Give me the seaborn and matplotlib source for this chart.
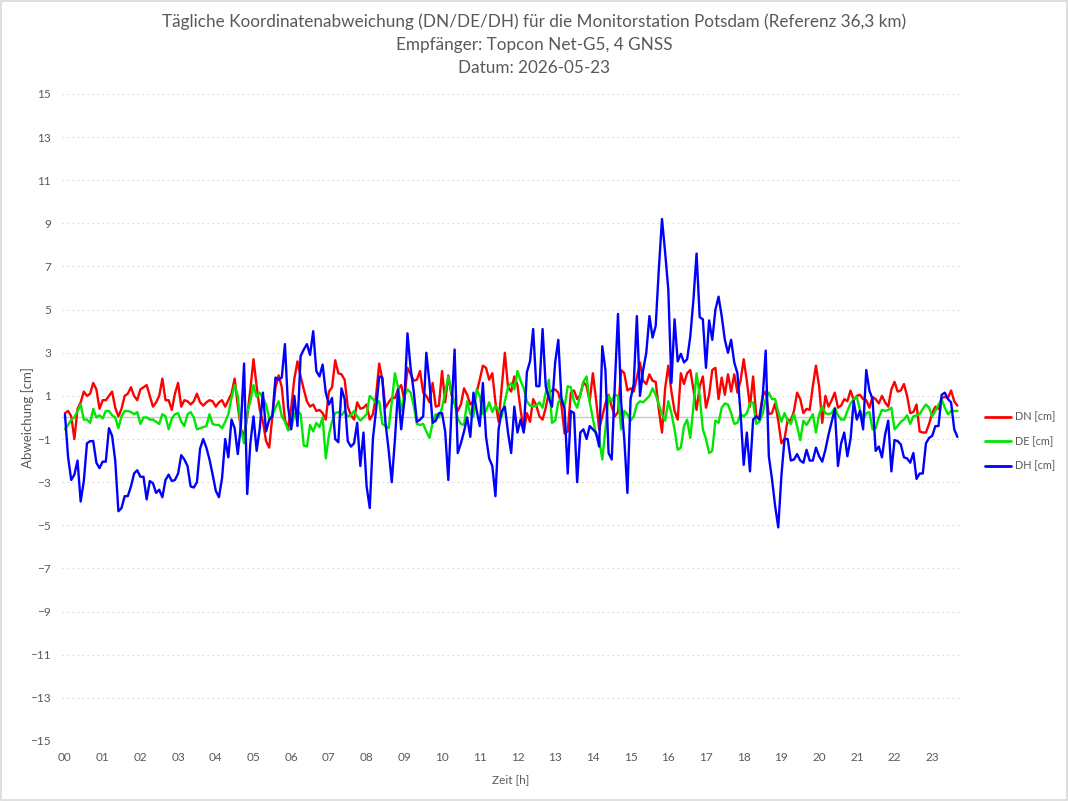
import numpy as np
import pandas as pd
import seaborn as sns
import matplotlib
matplotlib.use('Agg')
from matplotlib import pyplot as plt
from matplotlib.patches import Rectangle

dn = [0.2, 0.3, 0.05, -1.0, 0.4, 0.7, 1.2, 1.0, 1.1, 1.6, 1.3, 0.4,
      0.8, 0.8, 1.0, 1.2, 0.45, 0.05, 0.4, 1.0, 1.1, 1.4, 1.0, 0.8,
      1.3, 1.4, 1.5, 1.0, 0.5, 0.7, 1.0, 1.8, 0.8, 0.8, 0.35, 1.1,
      1.6, 0.5, 0.8, 0.75, 0.6, 0.75, 1.1, 0.7, 0.55, 0.7, 0.8, 0.75,
      0.5, 0.7, 0.8, 0.5, 0.8, 1.1, 1.8, 0.55, -0.55, -0.85, 0.05, 1.3,
      2.7, 1.45, 0.35, -0.2, -1.1, -1.4, 0.05, 1.4, 1.95, 1.4, -0.1, -0.5,
      0.45, 1.8, 2.6, 1.9, 1.3, 0.75, 0.5, 0.6, 0.3, 0.35, 0.2, -0.1,
      1.2, 1.4, 2.65, 2.05, 2.0, 1.75, 0.5, 0.1, -0.1, 0.7, 0.4, 0.45,
      0.6, -0.1, 0.15, 1.0, 2.5, 1.75, 0.45, 0.7, 0.9, 0.9, 1.3, 1.5,
      0.8, 2.3, 2.0, 1.7, 1.75, 2.15, 1.15, 1.0, 0.7, 1.6, 0.5, 0.55,
      2.15, 0.7, 1.95, 1.05, 0.65, 0.3, 0.6, 1.35, 1.05, 0.6, 0.75, 1.15,
      1.75, 2.4, 2.3, 1.75, 2.05, 0.7, -0.2, 1.4, 3.0, 1.4, 1.2, 1.9,
      1.5, 0.35, -0.65, 0.2, -0.2, 0.85, 0.55, 0.05, -0.1, 0.45, 1.15, 1.25,
      1.3, 1.15, 0.55, -0.75, -0.65, 1.15, 1.25, 0.85, 1.05, 1.65, 1.45, 0.75,
      2.05, 0.85, -0.55, 0.05, 0.65, 1.05, 0.5, 0.05, 0.25, 2.2, 2.05, 1.25,
      1.35, 1.2, 1.85, 2.55, 1.7, 1.55, 2.0, 1.7, 1.65, 0.35, -0.7, 1.35,
      2.4, 1.2, 0.3, -0.1, 2.05, 1.55, 2.05, 2.2, 1.3, 0.35, 1.45, 1.9,
      0.45, 1.05, 2.2, 2.3, 0.85, 1.85, 1.05, 2.0, 1.2, 2.0, 1.15, 1.7,
      2.7, 1.7, 0.5, 1.9, 0.05, 0.0, 1.0, 1.2, 0.15, 0.2, 0.65, -0.15,
      -1.2, -1.0, -0.1, -0.15, 0.3, 1.15, 0.85, 0.2, 0.4, 0.35, 1.45, 2.4,
      1.45, -0.25, 1.0, 0.5, 0.8, 1.15, 0.45, 0.55, 0.85, 0.75, 1.25, 0.8,
      1.0, 1.05, 0.85, 0.8, 0.45, 0.95, 0.85, 0.65, 1.0, 0.7, 0.5, 1.3,
      1.65, 1.2, 1.25, 1.55, 1.0, 0.2, 0.25, 0.6, -0.65, -0.7, -0.7, -0.3,
      0.2, 0.5, 0.4, 0.9, 0.95, 0.9, 1.25, 0.75, 0.55]

de = [-0.55, -0.35, -0.1, 0.0, 0.3, 0.6, -0.1, -0.1, -0.25, 0.4, 0.0, 0.1,
      -0.05, 0.3, 0.3, 0.1, 0.0, -0.5, 0.05, 0.3, 0.3, 0.25, 0.15, 0.25,
      -0.3, 0.0, 0.0, -0.1, -0.1, -0.2, -0.3, 0.15, 0.05, -0.55, -0.05, 0.15,
      0.2, -0.2, -0.4, 0.15, 0.25, 0.0, -0.55, -0.5, -0.45, -0.4, 0.15, -0.3,
      -0.35, -0.35, -0.5, -0.2, 0.15, 0.9, 1.5, 1.0, -0.55, -1.2, 0.2, 0.75,
      1.5, 0.95, 1.15, 0.9, 0.6, -0.05, 0.1, 0.45, 0.75, 0.05, -0.2, -0.6,
      -0.5, 0.15, 0.3, 0.15, -1.3, -1.35, -0.35, -0.65, -0.25, -0.45, 0.0, -1.9,
      -0.8, -0.2, 0.2, 0.25, 0.1, 0.3, 0.05, 0.1, 0.3, 0.05, -0.15, 0.0,
      0.15, 1.0, 0.85, 0.65, 0.75, -0.3, -0.4, -0.5, 0.7, 2.05, 1.4, 0.3,
      1.0, 1.3, 1.15, 0.55, -0.3, -0.35, -0.3, -0.65, -0.95, -0.25, 0.15, 0.0,
      0.45, 1.15, 1.9, 1.15, 0.7, -0.05, -0.3, -0.35, 0.75, 0.15, 0.05, 1.3,
      1.0, 0.15, 0.3, 0.7, 0.25, 0.55, 0.35, 0.05, 0.75, 1.4, 1.6, 1.3,
      2.15, 1.7, 1.35, 0.75, 0.55, 0.5, 0.55, 0.7, 0.45, 1.15, 1.75, -0.25,
      -0.15, 0.7, 0.9, 0.5, 1.45, 1.4, 0.75, 0.45, 1.05, 1.65, 1.9, 0.7,
      -0.05, -0.8, -1.0, -1.95, -0.55, 1.0, 0.75, 1.05, 1.0, -0.55, 0.3, 0.15,
      -0.15, 0.05, 0.6, 0.75, 0.7, 0.85, 1.0, 1.35, 1.05, 0.6, 0.15, -0.15,
      0.75, 0.2, -0.55, -1.5, -1.4, -0.4, -0.1, -0.95, 0.5, 2.05, 1.0, -0.55,
      -1.0, -1.65, -1.55, -0.15, -0.25, 0.45, 0.65, 0.6, 0.2, -0.3, -0.25, 0.15,
      0.05, 0.2, 0.65, 0.7, -0.3, -0.2, 0.15, 0.85, 1.15, 0.85, 0.85, 0.25,
      -0.2, 0.2, -0.15, -0.3, 0.15, -0.4, -1.05, -0.15, -0.35, -0.1, 0.15, -0.7,
      0.15, 0.5, 0.2, 0.15, 0.2, 0.45, 0.1, -0.1, -0.1, 0.3, 0.65, 0.85,
      0.95, 0.35, -0.1, 0.2, 0.25, -0.55, -0.5, 0.0, 0.35, 0.3, 0.35, 0.45,
      -0.55, -0.4, -0.2, -0.1, 0.1, -0.3, 0.05, 0.1, 0.15, 0.4, 0.6, 0.45,
      0.05, 0.3, 0.6, 0.85, 0.45, 0.15, 0.3, 0.3, 0.3]

dh = [0.15, -1.85, -2.9, -2.65, -2.0, -3.9, -2.95, -1.2, -1.1, -1.1, -2.1, -2.35,
      -2.05, -2.05, -0.5, -0.85, -2.0, -4.35, -4.2, -3.65, -3.65, -3.2, -2.6, -2.45,
      -2.75, -2.75, -3.8, -2.95, -3.05, -3.5, -3.35, -3.7, -2.9, -2.65, -2.95, -2.9,
      -2.6, -1.75, -1.95, -2.25, -3.2, -3.25, -3.0, -1.45, -1.0, -1.4, -1.95, -2.65,
      -3.4, -3.7, -2.8, -1.0, -1.85, -0.1, -0.5, -1.7, -0.35, 2.5, -3.55, -1.2,
      0.05, -1.55, -0.5, 1.15, -0.65, -0.1, 0.05, 1.85, 1.75, 1.85, 3.4, 0.5,
      -0.55, 1.0, -0.4, 2.85, 3.15, 3.4, 2.9, 4.0, 2.15, 1.9, 2.45, 1.15,
      0.6, 0.9, -1.0, -1.15, 1.35, 0.85, -1.1, -1.35, -1.2, -0.25, -2.25, -0.7,
      -3.2, -4.2, -1.0, 0.35, 1.9, 1.85, -0.25, -1.5, -3.0, -1.05, 1.3, -0.55,
      0.75, 3.9, 2.3, 1.2, -0.2, -0.1, 0.05, 3.0, 1.6, -0.25, -0.15, 0.2,
      0.2, -0.65, -2.9, 0.3, 3.15, -1.65, -1.2, -0.65, 0.0, -0.9, 1.15, 0.35,
      -0.4, 1.6, -0.9, -1.9, -2.25, -3.65, -0.55, 0.3, 0.5, -0.7, -1.65, 0.5,
      -0.7, -0.1, -0.7, 2.1, 2.6, 4.1, 1.45, 1.45, 4.1, 1.45, 0.9, 0.5,
      2.55, 3.6, 0.85, 0.4, -2.6, 0.3, 0.2, -3.0, -0.7, -0.55, -1.0, -0.4,
      -0.55, -0.7, -1.35, 3.3, 2.2, -1.65, -1.95, 1.55, 4.8, 0.7, -1.0, -3.5,
      0.85, 1.55, 4.7, 1.0, 2.2, 3.0, 4.7, 3.7, 4.25, 6.9, 9.2, 7.65,
      5.95, 1.6, 4.55, 2.6, 2.95, 2.55, 2.7, 3.75, 5.45, 7.6, 4.65, 4.55,
      2.3, 4.5, 3.6, 5.0, 5.6, 4.7, 3.6, 3.0, 3.6, 2.55, 2.05, 0.2,
      -2.2, -0.7, -2.5, -0.1, 0.05, -0.1, 0.85, 3.1, -1.8, -2.85, -4.1, -5.1,
      -2.7, -1.0, -1.0, -2.0, -1.95, -1.7, -2.0, -2.1, -1.5, -2.0, -2.0, -1.4,
      -1.8, -2.05, -1.5, -0.8, -0.2, 0.4, -2.25, -1.2, -0.7, -1.8, -1.0, 0.75,
      -0.1, 0.3, -0.55, 2.2, 1.25, 0.85, -1.55, -1.35, -1.85, -0.8, -0.15, -2.5,
      -1.05, -1.1, -1.25, -1.85, -1.9, -2.1, -1.65, -2.85, -2.6, -2.6, -1.2, -0.95,
      -0.85, -0.4, -0.4, 1.05, 1.15, 0.85, 0.7, -0.55, -0.9]

serien = ['DN [cm]', 'DE [cm]', 'DH [cm]']
farben = ['#ff0000', '#00e600', '#0000ff']
stunden = list(range(24))
stunden_labels = [f'{h:02d}' for h in stunden]
y_ticks = list(range(-15, 16, 2))
titel = ['Tägliche Koordinatenabweichung (DN/DE/DH) für die Monitorstation Potsdam (Referenz 36,3 km)',
         'Empfänger: Topcon Net-G5, 4 GNSS',
         'Datum: 2026-05-23']

zeit = np.arange(len(dn)) * 5 / 60
df = pd.DataFrame({'Zeit': zeit, serien[0]: dn, serien[1]: de, serien[2]: dh})
df = df.melt(id_vars='Zeit', var_name='Serie', value_name='Abweichung')

sns.set_style('white')
plt.rcParams['font.family'] = ['Lato', 'DejaVu Sans']
grau = '#595959'

fig = plt.figure(figsize=(10.68, 8.01), dpi=100)
ax = fig.add_axes([0.058, 0.075, 0.841, 0.8077])

for y in y_ticks:
    ax.axhline(y, color='#d9d9d9', linestyle=(0, (1.5, 3)), linewidth=0.8, zorder=0)
ax.axhline(0, color='#c8c8c8', linewidth=1.0, zorder=0)

sns.lineplot(data=df, x='Zeit', y='Abweichung', hue='Serie', palette=farben,
             linewidth=1.7, ax=ax, legend=True)

ax.set_xlim(-0.08, 23.74)
ax.set_ylim(-15, 15)
ax.set_xticks(stunden)
ax.set_xticklabels(stunden_labels)
ax.set_yticks(y_ticks)
ax.tick_params(axis='both', length=0, labelsize=8.5, labelcolor=grau, pad=8)
for s in ax.spines.values():
    s.set_visible(False)

ax.set_xlabel('Zeit [h]', fontsize=8.5, color=grau, labelpad=8)
ax.set_ylabel('Abweichung [cm]', fontsize=9.5, color=grau)
ax.yaxis.set_label_coords(-0.031, 0.5)

# drei Titelzeilen einzeln gesetzt
for txt, ypix in zip(titel, [22, 45, 68]):
    fig.text(0.5, 1 - ypix / 801, txt, ha='center', va='center', fontsize=12.3, color=grau)

leg = ax.legend(loc='center left', bbox_to_anchor=(0.913, 0.449), bbox_transform=fig.transFigure,
                frameon=False, fontsize=7.8, handlelength=2.4, labelspacing=1.25, handletextpad=0.4)
for t in leg.get_texts():
    t.set_color(grau)
for l in leg.get_lines():
    l.set_linewidth(2.0)

fig.patches.append(Rectangle((0.001, 0.001), 0.998, 0.998, transform=fig.transFigure,
                             fill=False, edgecolor='#d9d9d9', linewidth=1.2))

fig.savefig('out.png', dpi=100, facecolor='white')
